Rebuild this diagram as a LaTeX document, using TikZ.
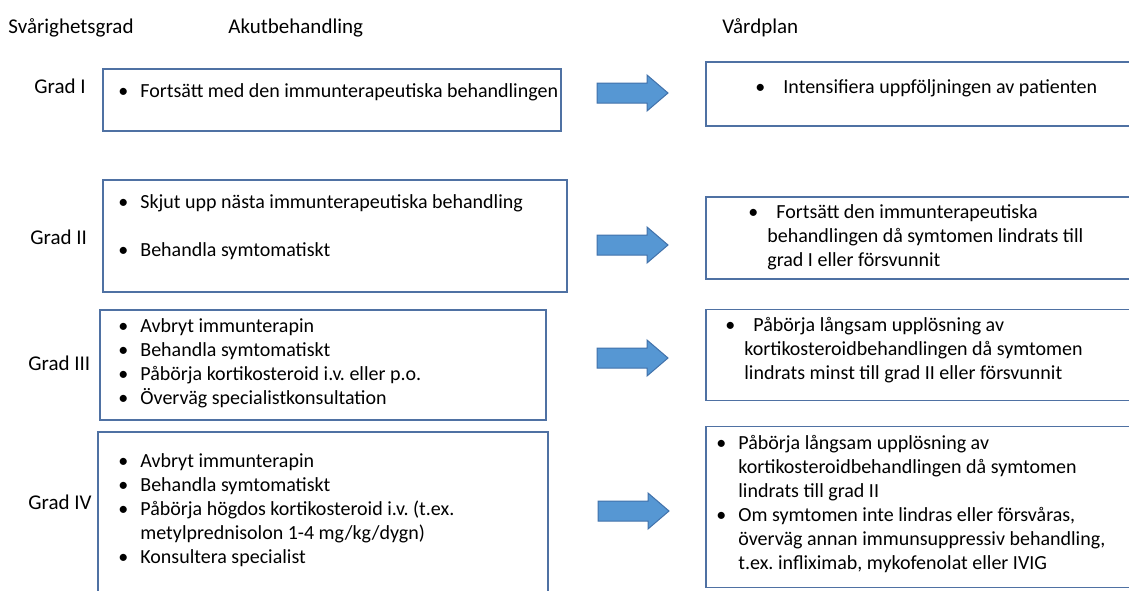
\documentclass[tikz,border=0pt]{standalone}
\usepackage{fontspec}
\setmainfont{Carlito}
\frenchspacing
\definecolor{boxblue}{RGB}{79,113,163}
\definecolor{arrowblue}{RGB}{86,151,211}
\definecolor{arrowedge}{RGB}{65,113,170}
\newcommand{\bul}{\makebox[11pt][l]{\textbullet}}
\newcommand{\cont}{\hspace*{11pt}}
\newcommand{\bulr}{\makebox[14pt][l]{\textbullet}}
\newcommand{\wrap}{\hspace*{9.5pt}}

\begin{document}
\begin{tikzpicture}[x=0.5pt, y=-0.5pt]
    \useasboundingbox (0, 0) rectangle (1129, 590);
    \tikzset{GradBox/.style={rectangle, draw=boxblue, line width=0.8pt, inner sep=0pt}}
    \tikzset{ListText/.style={anchor=north west, align=left, inner sep=0pt, font=\fontsize{10}{12}\selectfont}}
    \tikzset{Heading/.style={anchor=west, inner sep=0pt, font=\fontsize{10.5}{12}\selectfont}}
    \tikzset{BlockArrow/.pic={\draw[fill=arrowblue, draw=arrowedge, line width=0.5pt]
        (0, -10) -- (50, -10) -- (50, -18) -- (71, 0) -- (50, 18) -- (50, 10) -- (0, 10) -- cycle;}}

    % column headings
    \node[Heading] (head-grad) at (8, 28) {Svårighetsgrad};
    \node[Heading] (head-akut) at (228, 28) {Akutbehandling};
    \node[Heading] (head-plan) at (722, 28) {Vårdplan};

    % grade labels
    \node[Heading] (grad-1) at (34, 86) {Grad I};
    \node[Heading] (grad-2) at (30, 237) {Grad II};
    \node[Heading] (grad-3) at (28, 363) {Grad III};
    \node[Heading] (grad-4) at (28, 502) {Grad IV};

    % acute treatment boxes
    \node[GradBox, minimum width=229pt, minimum height=31pt] (akut-1) at (332, 100) {};
    \node[GradBox, minimum width=232pt, minimum height=56pt] (akut-2) at (335, 236) {};
    \node[GradBox, minimum width=223pt, minimum height=55pt] (akut-3) at (323, 365) {};
    \node[GradBox, minimum width=225pt, minimum height=84pt] (akut-4) at (323, 516) {};

    % care plan boxes (run off the right edge)
    \node[GradBox, minimum width=217pt, minimum height=32pt] (plan-1) at (923, 94) {};
    \node[GradBox, minimum width=217pt, minimum height=41pt] (plan-2) at (923, 238) {};
    \node[GradBox, minimum width=217pt, minimum height=45.5pt] (plan-3) at (923, 355) {};
    \node[GradBox, minimum width=217pt, minimum height=80.5pt] (plan-4) at (923, 507) {};

    % box texts
    \node[ListText] (akut-1-text) at (118, 83) {\bul Fortsätt med den immunterapeutiska behandlingen};
    \node[ListText] (akut-2-text) at (118, 194) {\bul Skjut upp nästa immunterapeutiska behandling\\[12pt]
        \bul Behandla symtomatiskt};
    \node[ListText] (akut-3-text) at (118, 318) {\bul Avbryt immunterapin\\
        \bul Behandla symtomatiskt\\
        \bul Påbörja kortikosteroid i.v. eller p.o.\\
        \bul Överväg specialistkonsultation};
    \node[ListText] (akut-4-text) at (118, 453) {\bul Avbryt immunterapin\\
        \bul Behandla symtomatiskt\\
        \bul Påbörja högdos kortikosteroid i.v. (t.ex.\\
        \cont metylprednisolon 1-4 mg/kg/dygn)\\
        \bul Konsultera specialist};

    \node[ListText] (plan-1-text) at (755, 79) {\bulr Intensifiera uppföljningen av patienten};
    \node[ListText] (plan-2-text) at (748, 204) {\bulr Fortsätt den immunterapeutiska\\
        \wrap behandlingen då symtomen lindrats till\\
        \wrap grad I eller försvunnit};
    \node[ListText] (plan-3-text) at (725, 317) {\bulr Påbörja långsam upplösning av\\
        \wrap kortikosteroidbehandlingen då symtomen\\
        \wrap lindrats minst till grad II eller försvunnit};
    \node[ListText] (plan-4-text) at (716, 435) {\bul Påbörja långsam upplösning av\\
        \cont kortikosteroidbehandlingen då symtomen\\
        \cont lindrats till grad II\\
        \bul Om symtomen inte lindras eller försvåras,\\
        \cont överväg annan immunsuppressiv behandling,\\
        \cont t.ex. infliximab, mykofenolat eller IVIG};

    % block arrows between the columns
    \pic at (597, 93) {BlockArrow};
    \pic at (597, 245) {BlockArrow};
    \pic at (597, 358) {BlockArrow};
    \pic at (598, 511) {BlockArrow};
\end{tikzpicture}
\end{document}
